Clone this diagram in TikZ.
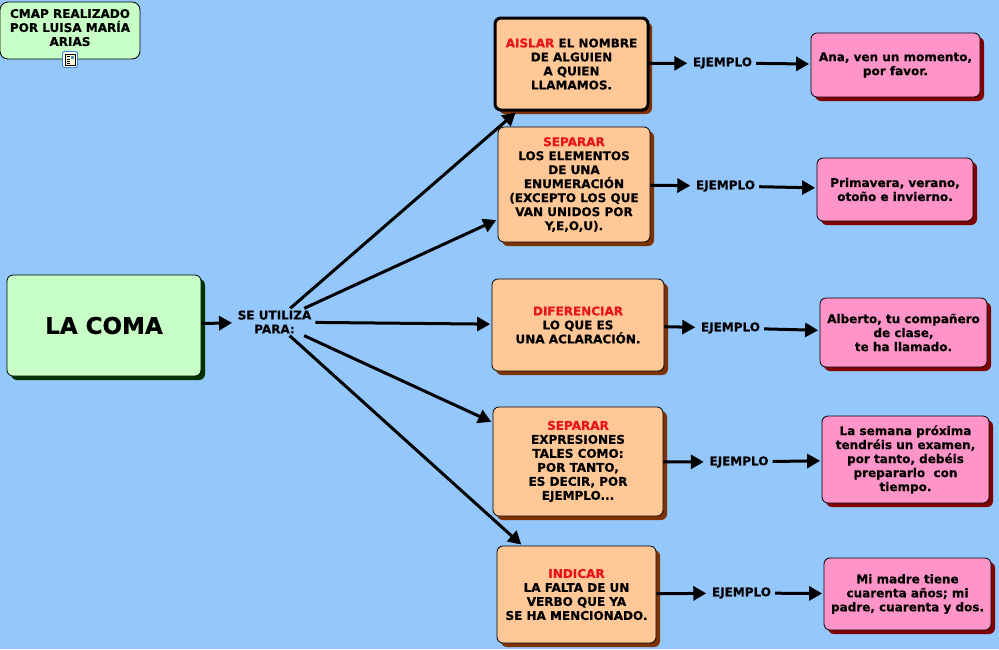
\documentclass[tikz,border=0pt]{standalone}
\usepackage{fontspec}
\setmainfont{DejaVu Sans}[BoldFont={DejaVu Sans Bold}, BoldFeatures={FakeBold=0.6}]
\usepackage{xcolor}
\usepackage{tikz}
\usetikzlibrary{arrows.meta,shadows}

\definecolor{fondo}{RGB}{148,199,252}
\definecolor{verde}{RGB}{199,255,199}
\definecolor{sombraverde}{RGB}{0,51,0}
\definecolor{naranja}{RGB}{255,200,150}
\definecolor{sombranaranja}{RGB}{125,50,0}
\definecolor{rosa}{RGB}{255,148,200}
\definecolor{sombrarosa}{RGB}{128,0,0}
\definecolor{rojo}{RGB}{235,20,20}
\definecolor{marcoicono}{RGB}{70,130,220}
\definecolor{hojaicono}{RGB}{255,255,215}
\definecolor{fotoicono}{RGB}{90,140,200}
\newcommand{\rojo}[1]{\textcolor{rojo}{#1}}

\begin{document}
\begin{tikzpicture}[
    x=1pt, y=-1pt,
    every node/.style={font=\bfseries\fontsize{12}{14}\selectfont, align=center, inner sep=0pt},
    caja/.style={draw=black, line width=0.8pt, rounded corners=6pt},
    concepto verde/.style={caja, fill=verde, drop shadow={shadow xshift=4pt, shadow yshift=-4pt, fill=sombraverde, opacity=1}},
    concepto naranja/.style={caja, fill=naranja, drop shadow={shadow xshift=4pt, shadow yshift=-4pt, fill=sombranaranja, opacity=1}},
    concepto rosa/.style={caja, fill=rosa, drop shadow={shadow xshift=4pt, shadow yshift=-4pt, fill=sombrarosa, opacity=1}},
    enlace/.style={inner xsep=4pt, inner ysep=2pt},
    flecha/.style={line width=3pt, shorten >=1.5pt, -{Triangle[length=13pt,width=14pt]}}
]
    \fill[fondo] (0,0) rectangle (999,649);
    \useasboundingbox (0,0) rectangle (999,649);

    % autor
    \node[caja, fill=verde, rounded corners=8pt, minimum width=140, minimum height=57, text depth=6pt] (autor) at (70,30.5)
        {CMAP REALIZADO\\POR LUISA MARÍA\\ARIAS};
    \draw[draw=marcoicono, fill=white, line width=0.8pt, rounded corners=1.5pt] (62.5,51.5) rectangle (77.5,67.5);
    \draw[fill=hojaicono, line width=0.6pt] (65,54) rectangle (75,65);
    \fill[fotoicono] (70.5,55.5) rectangle (74,59);
    \foreach \y in {56.5,59,61.5,63.5}
        \draw[line width=0.6pt] (66.5,\y) -- (69.5,\y);

    % concepto principal
    \node[concepto verde, minimum width=194, minimum height=101, font=\bfseries\fontsize{23}{26}\selectfont] (coma) at (104,325.5) {LA COMA};
    \node[enlace] (uso) at (274.5,322) {SE UTILIZA\\PARA:};

    % usos
    \node[concepto naranja, line width=3pt, minimum width=153, minimum height=92] (aislar) at (571.5,64)
        {\rojo{AISLAR} EL NOMBRE\\DE ALGUIEN\\A QUIEN\\LLAMAMOS.};
    \node[concepto naranja, minimum width=152, minimum height=115] (enumeracion) at (574,184.5)
        {\rojo{SEPARAR}\\LOS ELEMENTOS\\DE UNA\\ENUMERACIÓN\\(EXCEPTO LOS QUE\\VAN UNIDOS POR\\Y,E,O,U).};
    \node[concepto naranja, minimum width=172, minimum height=92] (aclaracion) at (578,325)
        {\rojo{DIFERENCIAR}\\LO QUE ES\\UNA ACLARACIÓN.};
    \node[concepto naranja, minimum width=170, minimum height=109] (expresiones) at (578,461.5)
        {\rojo{SEPARAR}\\EXPRESIONES\\TALES COMO:\\POR TANTO,\\ES DECIR, POR\\EJEMPLO...};
    \node[concepto naranja, minimum width=159, minimum height=97] (verbo) at (576.5,594.5)
        {\rojo{INDICAR}\\LA FALTA DE UN\\VERBO QUE YA\\SE HA MENCIONADO.};

    % ejemplos
    \node[enlace] (ej1) at (722.5,63) {EJEMPLO};
    \node[enlace] (ej2) at (725.5,186) {EJEMPLO};
    \node[enlace] (ej3) at (730.5,328) {EJEMPLO};
    \node[enlace] (ej4) at (739,462) {EJEMPLO};
    \node[enlace] (ej5) at (741.5,593) {EJEMPLO};

    \node[concepto rosa, minimum width=169, minimum height=64] (ana) at (895.5,65)
        {Ana, ven un momento,\\por favor.};
    \node[concepto rosa, minimum width=156, minimum height=63] (primavera) at (895,189.5)
        {Primavera, verano,\\otoño e invierno.};
    \node[concepto rosa, minimum width=167, minimum height=69] (alberto) at (903.5,332.5)
        {Alberto, tu compañero\\de clase,\\te ha llamado.};
    \node[concepto rosa, minimum width=167, minimum height=87] (semana) at (905.5,459.5)
        {La semana próxima\\tendréis un examen,\\por tanto, debéis\\prepararlo\ \ con\\tiempo.};
    \node[concepto rosa, minimum width=167, minimum height=72] (madre) at (907.5,594)
        {Mi madre tiene\\cuarenta años; mi\\padre, cuarenta y dos.};

    % conexiones
    \draw[flecha] (coma) -- (uso);
    \foreach \b in {aislar,enumeracion,aclaracion,expresiones,verbo}
        \draw[flecha] (uso) -- (\b);
    \foreach \a/\e/\b in {aislar/ej1/ana, enumeracion/ej2/primavera, aclaracion/ej3/alberto, expresiones/ej4/semana, verbo/ej5/madre} {
        \draw[flecha] (\a) -- (\e);
        \draw[flecha] (\e) -- (\b);
    }
\end{tikzpicture}
\end{document}
